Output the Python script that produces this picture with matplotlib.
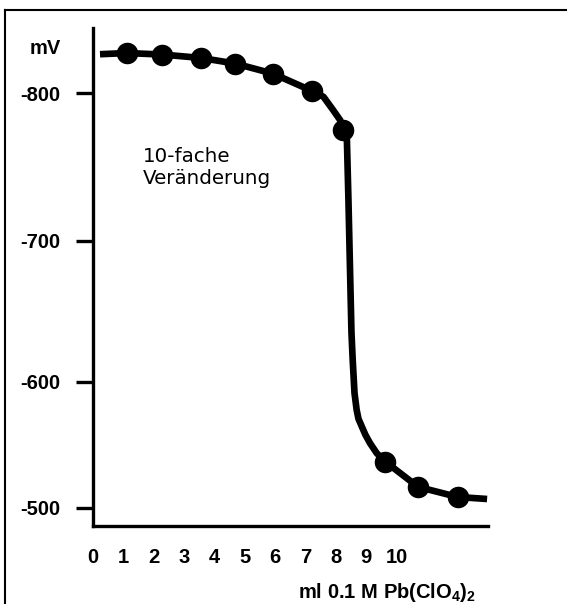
import numpy as np
import matplotlib
matplotlib.use("Agg")
import matplotlib.pyplot as plt
from matplotlib.lines import Line2D

# ---------------- data ----------------
dots_x = [1.12, 2.27, 3.55, 4.68, 5.92, 7.20, 8.23, 9.62, 10.70, 12.00]
dots_mv = [-827.4, -826.4, -824.1, -820.3, -813.5, -801.8, -774.9, -536.6, -516.5, -508.5]

curve_x = [0.24, 1.12, 2.27, 3.55, 4.68, 5.92, 7.20, 7.59, 7.91, 8.14, 8.23, 8.36,
           8.41, 8.46, 8.51, 8.55, 8.61, 8.68, 8.74, 8.85, 8.97, 9.12, 9.34, 9.62,
           10.70, 12.00, 12.97]
curve_mv = [-826.6, -827.4, -826.4, -824.1, -820.3, -813.5, -801.8, -797.7, -788.6,
            -781.8, -774.9, -768.4, -727.9, -681.7, -634.8, -615.6, -591.0, -577.7,
            -570.6, -564.4, -557.8, -551.2, -543.3, -536.6, -516.5, -508.5, -506.9]

x_ticks = list(range(0, 11))
x_ticklabels = [str(v) for v in x_ticks]
y_ticks = [-800, -700, -600, -500]
y_ticklabels = ["-800", "-700", "-600", "-500"]
y_unit = "mV"
x_label = "ml 0.1 M Pb(ClO$_4$)$_2$"
note = "10-fache\nVeränderung"

# ---------------- styling ----------------
plt.rcParams['mathtext.default'] = 'regular'
BOLD_FAM = ['Liberation Sans Narrow', 'DejaVu Sans Condensed', 'Liberation Sans']
FS = 14.5

# The original drawing has uneven spacing between its y ticks;
# a piecewise-linear scale reproduces that spacing.
KP = np.array([0.0, 147.0, 287.7, 413.4])  # relative tick spacing of the drawing


def fwd(v):
    v = np.asarray(v, dtype=float)
    kv = np.array(y_ticks, dtype=float)
    out = np.interp(v, kv, KP)
    s0 = (KP[1] - KP[0]) / (kv[1] - kv[0])
    s1 = (KP[-1] - KP[-2]) / (kv[-1] - kv[-2])
    out = np.where(v < kv[0], KP[0] + (v - kv[0]) * s0, out)
    out = np.where(v > kv[-1], KP[-1] + (v - kv[-1]) * s1, out)
    return out


def inv(p):
    p = np.asarray(p, dtype=float)
    kv = np.array(y_ticks, dtype=float)
    out = np.interp(p, KP, kv)
    s0 = (KP[1] - KP[0]) / (kv[1] - kv[0])
    s1 = (KP[-1] - KP[-2]) / (kv[-1] - kv[-2])
    out = np.where(p < KP[0], kv[0] + (p - KP[0]) / s0, out)
    out = np.where(p > KP[-1], kv[-1] + (p - KP[-1]) / s1, out)
    return out


W, H = 567, 604
fig = plt.figure(figsize=(W / 100, H / 100), dpi=100)
ax = fig.add_axes([92.7 / W, 1 - 525.7 / H, (488 - 92.7) / W, (525.7 - 28) / H])

ax.set_yscale('function', functions=(fwd, inv))
ax.plot(curve_x, curve_mv, color='black', lw=4.8, solid_joinstyle='round',
        solid_capstyle='butt', zorder=2)
ax.plot(dots_x, dots_mv, 'o', color='black', ms=14.5, zorder=3)

ax.set_xlim(0, 13.0)
ax.set_ylim(-485.7, -844.4)

for s in ['top', 'right']:
    ax.spines[s].set_visible(False)
for s in ['left', 'bottom']:
    ax.spines[s].set_linewidth(2.4)
    ax.spines[s].set_capstyle('projecting')

ax.set_xticks(x_ticks)
ax.set_xticklabels(x_ticklabels, family=BOLD_FAM, weight='bold', fontsize=FS)
ax.tick_params(axis='x', length=0, pad=16)
ax.set_yticks(y_ticks)
ax.set_yticklabels(y_ticklabels, family=BOLD_FAM, weight='bold', fontsize=FS)
ax.tick_params(axis='y', length=12.5, width=2.4, pad=10.5)
ax.minorticks_off()

fig.text(61 / W, 1 - 48 / H, y_unit, ha='right', va='center',
         family=BOLD_FAM, weight='bold', fontsize=FS)
fig.text(298 / W, 1 - 592 / H, x_label, ha='left', va='center',
         family=BOLD_FAM, weight='bold', fontsize=FS)
fig.text(143 / W, 1 - 167 / H, note, ha='left', va='center',
         family='DejaVu Sans', fontsize=14.3, linespacing=1.2)

# outer frame (top and left edges visible in the picture)
fig.add_artist(Line2D([5 / W, 5 / W], [0, 1 - 10 / H], transform=fig.transFigure,
                      color='black', lw=1.5))
fig.add_artist(Line2D([5 / W, 1], [1 - 10 / H, 1 - 10 / H], transform=fig.transFigure,
                      color='black', lw=1.5))

fig.savefig('out.png', dpi=100)
